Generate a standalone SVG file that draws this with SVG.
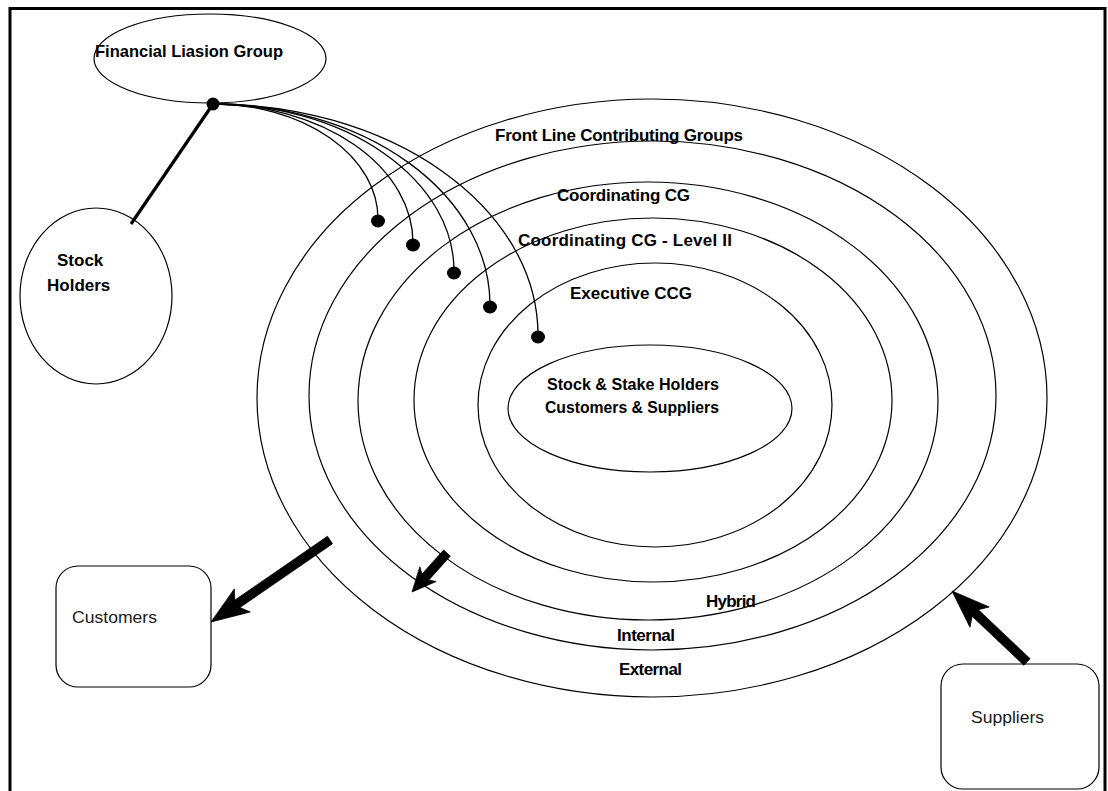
<svg xmlns="http://www.w3.org/2000/svg" width="1108" height="791" viewBox="0 0 1108 791">
<defs>
<style>
.ln{fill:none;stroke:#000;stroke-width:1.2}
.sh{fill:#fff;stroke:#000;stroke-width:1.2}
.lb{font-family:"Liberation Sans",Arial,sans-serif;font-weight:bold;font-size:17px;fill:#000}
.lr{font-family:"Liberation Sans",Arial,sans-serif;font-size:17px;fill:#1a1a1a}
.cv{fill:none;stroke:#000;stroke-width:1.3}
.dot{fill:#000}
.ar{fill:#000;stroke:#000;stroke-width:0.8;stroke-linejoin:miter}
</style>
</defs>
<rect width="1108" height="791" fill="#fff"/>
<g id="frame" fill="none" stroke="#000" stroke-width="3">
<path d="M10,791 L10,8.5 L1105,8.5 L1105,791"/>
</g>
<g id="rings">
<ellipse class="ln" cx="652" cy="398" rx="395" ry="299"/>
<ellipse class="ln" cx="652.5" cy="395.5" rx="343.5" ry="254.5" stroke="#333"/>
<ellipse class="ln" cx="648" cy="401" rx="290" ry="219"/>
<ellipse class="ln" cx="653" cy="400" rx="239" ry="182"/>
<ellipse class="ln" cx="655" cy="405" rx="177" ry="142"/>
</g>
<g id="core">
<ellipse class="ln" cx="650" cy="408.5" rx="142" ry="63.5"/>
<text class="lb" x="633" y="390" text-anchor="middle" textLength="172" lengthAdjust="spacingAndGlyphs">Stock &amp; Stake Holders</text>
<text class="lb" x="632" y="413" text-anchor="middle" textLength="174" lengthAdjust="spacingAndGlyphs">Customers &amp; Suppliers</text>
</g>
<g id="ring-labels">
<text class="lb" x="619" y="141" text-anchor="middle" textLength="248" lengthAdjust="spacing">Front Line Contributing Groups</text>
<text class="lb" x="623.5" y="201" text-anchor="middle" textLength="133" lengthAdjust="spacing">Coordinating CG</text>
<text class="lb" x="625" y="246" text-anchor="middle" textLength="214" lengthAdjust="spacing">Coordinating CG - Level II</text>
<text class="lb" x="631" y="299" text-anchor="middle" textLength="122" lengthAdjust="spacing">Executive CCG</text>
<text class="lb" x="731" y="607" text-anchor="middle" textLength="50" lengthAdjust="spacing">Hybrid</text>
<text class="lb" x="646" y="641" text-anchor="middle" textLength="58" lengthAdjust="spacing">Internal</text>
<text class="lb" x="650.5" y="675" text-anchor="middle" textLength="63" lengthAdjust="spacing">External</text>
</g>
<g id="financial-liaison-group">
<ellipse class="sh" cx="210" cy="58.5" rx="116" ry="44.5"/>
<text class="lb" x="95" y="57" textLength="188" lengthAdjust="spacingAndGlyphs">Financial Liasion Group</text>
</g>
<g id="stock-holders">
<ellipse class="sh" cx="96" cy="296" rx="76" ry="88"/>
<text class="lb" x="57" y="266">Stock</text>
<text class="lb" x="47" y="291">Holders</text>
</g>
<g id="customers">
<rect class="sh" x="56" y="566" width="155" height="121" rx="22" ry="22"/>
<text class="lr" x="72" y="623" textLength="85" lengthAdjust="spacingAndGlyphs">Customers</text>
</g>
<g id="suppliers">
<rect class="sh" x="941" y="664" width="158" height="125" rx="22" ry="22"/>
<text class="lr" x="971" y="723" textLength="73" lengthAdjust="spacingAndGlyphs">Suppliers</text>
</g>
<g id="connectors">
<line x1="213" y1="104" x2="131" y2="224" stroke="#000" stroke-width="3.2"/>
<path class="cv" d="M213,104 A165,115 0 0 1 378,219"/>
<path class="cv" d="M213,104 A200,139 0 0 1 413,243"/>
<path class="cv" d="M213,104 A241,167 0 0 1 454,271"/>
<path class="cv" d="M213,104 A277,201 0 0 1 490,305"/>
<path class="cv" d="M213,104 A325,231 0 0 1 538,335"/>
<circle class="dot" cx="213" cy="104" r="6.5"/>
<ellipse class="dot" cx="378" cy="221" rx="7" ry="6.5"/>
<ellipse class="dot" cx="413" cy="245" rx="7" ry="6.5"/>
<ellipse class="dot" cx="454" cy="273" rx="7" ry="6.5"/>
<ellipse class="dot" cx="490" cy="307" rx="7" ry="6.5"/>
<ellipse class="dot" cx="538" cy="337" rx="7" ry="6.5"/>
<polygon class="ar" points="327.45,536.29 234.8,600.13 234.34,588.9 211,622 250.24,611.96 239.9,607.55 332.55,543.71"/>
<polygon class="ar" points="443.65,549.99 422.01,574.11 419.85,566.79 412,592 436.21,581.49 428.71,580.13 450.35,556.01"/>
<polygon class="ar" points="1030.09,658.73 978.32,609.71 989.21,606.95 952,591 969.97,627.27 972.14,616.25 1023.91,665.27"/>
</g>
</svg>
